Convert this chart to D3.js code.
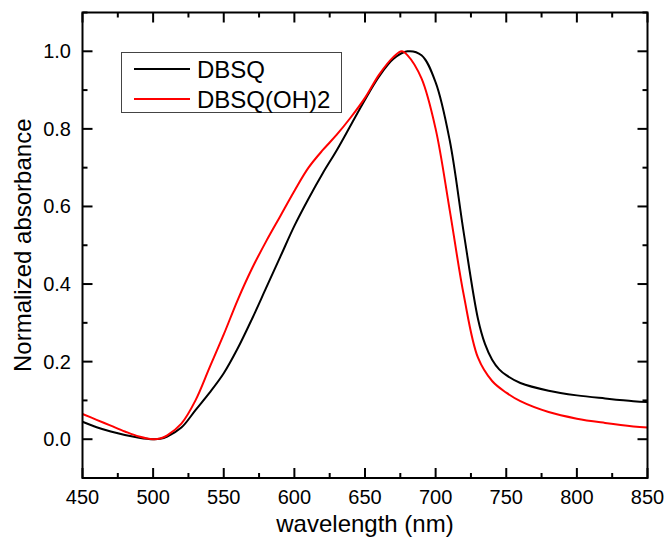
<!DOCTYPE html>
<html>
<head>
  <meta charset="utf-8">
  <script src="https://cdn.jsdelivr.net/npm/d3@7"></script>
  <style>
    body { margin: 0; background: #fff; }
    text { font-family: Arial, "Liberation Sans", sans-serif; fill: #000; }
  </style>
</head>
<body>
<svg id="chart" width="665" height="537"></svg>
<script>
  // DBSQ
  var wlBlack = [450, 460, 470, 480, 490, 500, 505, 510, 520, 530, 540, 550, 560, 570, 580, 590, 600, 610, 620, 630, 640, 650, 660, 670, 680, 690, 700, 710, 720, 730, 735, 740, 745, 750, 760, 780, 800, 820, 840, 850];
  var absBlack = [0.045, 0.031, 0.02, 0.011, 0.004, 0.0, 0.001, 0.007, 0.03, 0.075, 0.12, 0.17, 0.235, 0.31, 0.39, 0.47, 0.55, 0.62, 0.685, 0.745, 0.81, 0.875, 0.935, 0.98, 1.0, 0.99, 0.92, 0.77, 0.53, 0.31, 0.245, 0.205, 0.18, 0.165, 0.145, 0.125, 0.113, 0.105, 0.098, 0.096];

  // DBSQ(OH)2
  var wlRed = [450, 460, 470, 480, 490, 500, 505, 510, 520, 530, 540, 550, 560, 570, 580, 590, 600, 610, 620, 630, 640, 650, 660, 670, 676, 680, 690, 700, 710, 720, 730, 740, 750, 760, 780, 800, 820, 840, 850];
  var absRed = [0.065, 0.05, 0.035, 0.02, 0.007, 0.0, 0.002, 0.01, 0.04, 0.1, 0.185, 0.27, 0.36, 0.44, 0.51, 0.575, 0.64, 0.70, 0.745, 0.785, 0.83, 0.88, 0.94, 0.985, 1.0, 0.99, 0.93, 0.80, 0.59, 0.37, 0.21, 0.15, 0.12, 0.098, 0.07, 0.053, 0.042, 0.033, 0.03];

  var seriesNames = ['DBSQ', 'DBSQ(OH)2'];
  var seriesColors = ['#000000', '#ff0000'];

  var xMajor = [450, 500, 550, 600, 650, 700, 750, 800, 850];
  var yMajor = [0.0, 0.2, 0.4, 0.6, 0.8, 1.0];

  var svg = d3.select('#chart');
  var mLeft = 82.5, mRight = 647.5, mTop = 12.5, mBottom = 478;

  var x = d3.scaleLinear().domain([450, 850]).range([mLeft, mRight]);
  var y = d3.scaleLinear().domain([-0.1, 1.1]).range([mBottom, mTop]);

  var xMinor = d3.range(475, 850, 50);
  var yMinor = d3.range(-0.1, 1.11, 0.2);

  var axes = svg.append('g').attr('stroke', '#000').attr('stroke-width', 2);

  // ticks, inward, on all four sides
  xMajor.forEach(function (v) {
    axes.append('line').attr('x1', x(v)).attr('x2', x(v)).attr('y1', mBottom).attr('y2', mBottom - 10);
    axes.append('line').attr('x1', x(v)).attr('x2', x(v)).attr('y1', mTop).attr('y2', mTop + 10);
  });
  xMinor.forEach(function (v) {
    axes.append('line').attr('x1', x(v)).attr('x2', x(v)).attr('y1', mBottom).attr('y2', mBottom - 5);
    axes.append('line').attr('x1', x(v)).attr('x2', x(v)).attr('y1', mTop).attr('y2', mTop + 5);
  });
  yMajor.forEach(function (v) {
    axes.append('line').attr('y1', y(v)).attr('y2', y(v)).attr('x1', mLeft).attr('x2', mLeft + 10);
    axes.append('line').attr('y1', y(v)).attr('y2', y(v)).attr('x1', mRight).attr('x2', mRight - 10);
  });
  yMinor.forEach(function (v) {
    axes.append('line').attr('y1', y(v)).attr('y2', y(v)).attr('x1', mLeft).attr('x2', mLeft + 5);
    axes.append('line').attr('y1', y(v)).attr('y2', y(v)).attr('x1', mRight).attr('x2', mRight - 5);
  });

  // curves
  var line = d3.line()
    .x(function (d) { return x(d[0]); })
    .y(function (d) { return y(d[1]); })
    .curve(d3.curveCatmullRom.alpha(0.5));

  svg.append('clipPath').attr('id', 'clip')
    .append('rect').attr('x', mLeft).attr('y', mTop).attr('width', mRight - mLeft).attr('height', mBottom - mTop);

  var plot = svg.append('g').attr('clip-path', 'url(#clip)');
  plot.append('path')
    .datum(d3.zip(wlBlack, absBlack))
    .attr('fill', 'none').attr('stroke', seriesColors[0]).attr('stroke-width', 2)
    .attr('d', line);
  plot.append('path')
    .datum(d3.zip(wlRed, absRed))
    .attr('fill', 'none').attr('stroke', seriesColors[1]).attr('stroke-width', 2)
    .attr('d', line);

  // frame
  svg.append('rect')
    .attr('x', mLeft).attr('y', mTop).attr('width', mRight - mLeft).attr('height', mBottom - mTop)
    .attr('fill', 'none').attr('stroke', '#000').attr('stroke-width', 2);

  // tick labels
  svg.append('g').selectAll('text').data(xMajor).enter().append('text')
    .attr('x', function (d) { return x(d); })
    .attr('y', 504)
    .attr('text-anchor', 'middle')
    .attr('font-size', 20)
    .text(function (d) { return d; });

  svg.append('g').selectAll('text').data(yMajor).enter().append('text')
    .attr('x', 71)
    .attr('y', function (d) { return y(d) + 7; })
    .attr('text-anchor', 'end')
    .attr('font-size', 20)
    .text(function (d) { return d.toFixed(1); });

  // axis titles
  svg.append('text')
    .attr('x', (mLeft + mRight) / 2).attr('y', 532)
    .attr('text-anchor', 'middle').attr('font-size', 24)
    .text('wavelength (nm)');

  svg.append('text')
    .attr('transform', 'translate(31,' + ((mTop + mBottom) / 2) + ') rotate(-90)')
    .attr('text-anchor', 'middle').attr('font-size', 24)
    .text('Normalized absorbance');

  // legend
  var legend = svg.append('g');
  legend.append('rect')
    .attr('x', 121.5).attr('y', 52.5).attr('width', 220).attr('height', 60)
    .attr('fill', '#fff').attr('stroke', '#444').attr('stroke-width', 1);
  seriesNames.forEach(function (name, i) {
    var ly = 69 + i * 30;
    legend.append('line')
      .attr('x1', 134).attr('x2', 190).attr('y1', ly).attr('y2', ly)
      .attr('stroke', seriesColors[i]).attr('stroke-width', 2);
    legend.append('text')
      .attr('x', 197).attr('y', ly + 8.5)
      .attr('font-size', 24)
      .text(name);
  });
</script>
</body>
</html>
